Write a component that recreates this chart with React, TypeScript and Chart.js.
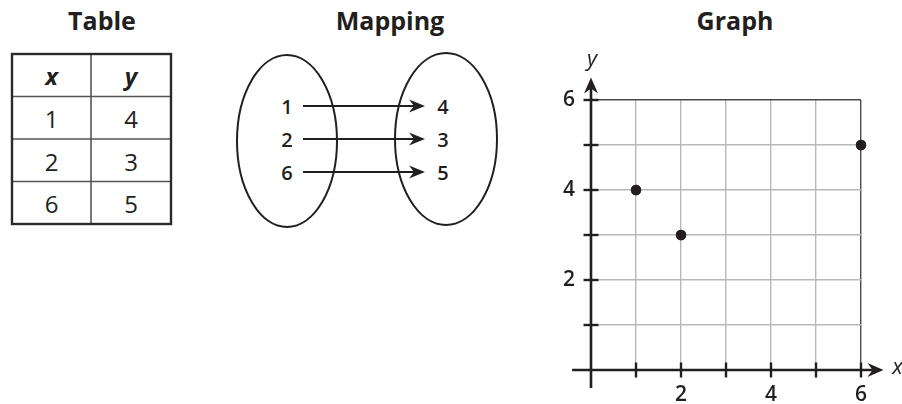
import React, { useEffect, useRef } from "react";
import { Chart, registerables } from "chart.js";

Chart.register(...registerables);

// ---- data ----
const xValues = [1, 2, 6];
const yValues = [4, 3, 5];
const axisLabelValues = [2, 4, 6];
const titles = ["Table", "Mapping", "Graph"];
const headers = ["x", "y"];

const INK = "#231f20";
const FONT = "'Open Sans', 'Noto Sans', sans-serif";

function arrowHead(ctx: CanvasRenderingContext2D, tipX: number, tipY: number, dir: "right" | "up") {
  ctx.save();
  ctx.translate(tipX, tipY);
  if (dir === "up") ctx.rotate(-Math.PI / 2);
  ctx.beginPath();
  ctx.moveTo(0, 0);
  ctx.lineTo(-16, -7);
  ctx.lineTo(-11, 0);
  ctx.lineTo(-16, 7);
  ctx.closePath();
  ctx.fillStyle = INK;
  ctx.fill();
  ctx.restore();
}

const axesPlugin = {
  id: "axesPlugin",
  afterDraw(chart: any) {
    const ctx: CanvasRenderingContext2D = chart.ctx;
    const xs = chart.scales.x;
    const ys = chart.scales.y;
    const x0 = xs.getPixelForValue(0);
    const y0 = ys.getPixelForValue(0);
    ctx.save();
    ctx.strokeStyle = INK;
    ctx.lineWidth = 2.6;
    // x axis
    const xl = xs.getPixelForValue(-0.42);
    const xr = xs.getPixelForValue(6.5);
    ctx.beginPath();
    ctx.moveTo(xl, y0);
    ctx.lineTo(xr - 10, y0);
    ctx.stroke();
    arrowHead(ctx, xr, y0, "right");
    // y axis
    const yb = ys.getPixelForValue(-0.4);
    const yt = ys.getPixelForValue(6.5);
    ctx.beginPath();
    ctx.moveTo(x0, yb);
    ctx.lineTo(x0, yt + 10);
    ctx.stroke();
    arrowHead(ctx, x0, yt, "up");
    // ticks
    ctx.lineWidth = 2.4;
    for (let v = 1; v <= 6; v++) {
      const px = xs.getPixelForValue(v);
      ctx.beginPath();
      ctx.moveTo(px, y0 - 7.5);
      ctx.lineTo(px, y0 + 7.5);
      ctx.stroke();
      const py = ys.getPixelForValue(v);
      ctx.beginPath();
      ctx.moveTo(x0 - 7.5, py);
      ctx.lineTo(x0 + 7.5, py);
      ctx.stroke();
    }
    // re-draw points on top of axes/ticks (not clipped)
    const meta = chart.getDatasetMeta(0);
    ctx.fillStyle = INK;
    meta.data.forEach((pt: any) => {
      ctx.beginPath();
      ctx.arc(pt.x, pt.y, 5.2, 0, Math.PI * 2);
      ctx.fill();
    });
    // axis titles
    ctx.fillStyle = INK;
    ctx.font = `italic 22px ${FONT}`;
    ctx.textAlign = "center";
    ctx.textBaseline = "middle";
    ctx.fillText("y", x0 + 1, yt - 18);
    ctx.fillText("x", xr + 14, y0 - 2);
    ctx.restore();
  },
};

function Graph() {
  const ref = useRef<HTMLCanvasElement | null>(null);
  useEffect(() => {
    if (!ref.current) return;
    const chart = new Chart(ref.current, {
      type: "scatter",
      data: {
        datasets: [
          {
            data: xValues.map((x, i) => ({ x, y: yValues[i] })),
            pointRadius: 5.2,
            pointHoverRadius: 5.2,
            backgroundColor: INK,
            borderWidth: 0,
            clip: false as any,
          },
        ],
      },
      options: {
        animation: false,
        responsive: false,
        maintainAspectRatio: false,
        events: [],
        layout: { padding: { left: 0, top: 60, right: 41, bottom: 0 } },
        plugins: { legend: { display: false }, tooltip: { enabled: false } },
        scales: {
          x: {
            type: "linear",
            min: 0,
            max: 6,
            afterFit: (s: any) => {
              s.height = 34;
            },
            ticks: {
              stepSize: 1,
              autoSkip: false,
              maxRotation: 0,
              padding: 12,
              color: INK,
              font: { family: FONT, size: 21, weight: 600 as any },
              callback: (v: any) => (axisLabelValues.includes(Number(v)) ? String(v) : ""),
            },
            grid: {
              drawTicks: false,
              lineWidth: 1.4,
              color: (c: any) => (c.tick && c.tick.value === 6 ? "#4a4a4a" : c.tick && c.tick.value === 0 ? "rgba(0,0,0,0)" : "#b8b8b8"),
            },
            border: { display: false },
          },
          y: {
            type: "linear",
            min: 0,
            max: 6,
            afterFit: (s: any) => {
              s.width = 51;
            },
            ticks: {
              stepSize: 1,
              autoSkip: false,
              padding: 16,
              color: INK,
              font: { family: FONT, size: 21, weight: 600 as any },
              callback: (v: any) => (axisLabelValues.includes(Number(v)) ? String(v) : ""),
            },
            grid: {
              drawTicks: false,
              lineWidth: 1.4,
              color: (c: any) => (c.tick && c.tick.value === 6 ? "#4a4a4a" : c.tick && c.tick.value === 0 ? "rgba(0,0,0,0)" : "#b8b8b8"),
            },
            border: { display: false },
          },
        },
      },
      plugins: [axesPlugin],
    });
    return () => chart.destroy();
  }, []);
  return (
    <canvas
      ref={ref}
      width={362}
      height={364}
      style={{ position: "absolute", left: 540, top: 40, width: 362, height: 364, display: "block" }}
    />
  );
}

function TableAndMapping() {
  const tLeft = 12, tMid = 91, tRight = 171, tTop = 54, rowH = 42.5;
  const rows = xValues.length + 1;
  const tBottom = tTop + rowH * rows;
  const mapYs = [106, 139, 172];
  const lx = 287, rx = 443;
  const arrowStart = 303, arrowTip = 425;
  return (
    <svg width={902} height={404} style={{ position: "absolute", left: 0, top: 0 }}>
      <g fontFamily={FONT} fill={INK}>
        <text x={102} y={20} fontSize={25} fontWeight={700} textAnchor="middle" dominantBaseline="central">{titles[0]}</text>
        <text x={390} y={20} fontSize={25} fontWeight={700} textAnchor="middle" dominantBaseline="central">{titles[1]}</text>
        <text x={735} y={20} fontSize={25} fontWeight={700} textAnchor="middle" dominantBaseline="central">{titles[2]}</text>
      </g>
      {/* table */}
      <g>
        {Array.from({ length: rows - 1 }, (_, i) => (
          <line key={i} x1={tLeft} x2={tRight} y1={tTop + rowH * (i + 1)} y2={tTop + rowH * (i + 1)} stroke="#555" strokeWidth={1.6} />
        ))}
        <line x1={tMid} x2={tMid} y1={tTop} y2={tBottom} stroke="#555" strokeWidth={1.6} />
        <rect x={tLeft} y={tTop} width={tRight - tLeft} height={tBottom - tTop} fill="none" stroke="#2a2a2a" strokeWidth={2.4} />
        <g fontFamily={FONT} fill={INK} textAnchor="middle" dominantBaseline="central">
          <text x={(tLeft + tMid) / 2} y={tTop + rowH / 2} fontSize={24} fontWeight={700} fontStyle="italic">{headers[0]}</text>
          <text x={(tMid + tRight) / 2} y={tTop + rowH / 2} fontSize={24} fontWeight={700} fontStyle="italic">{headers[1]}</text>
          {xValues.map((x, i) => (
            <text key={"x" + i} x={(tLeft + tMid) / 2} y={tTop + rowH * (i + 1.5) + 1} fontSize={24}>{x}</text>
          ))}
          {yValues.map((y, i) => (
            <text key={"y" + i} x={(tMid + tRight) / 2} y={tTop + rowH * (i + 1.5) + 1} fontSize={24}>{y}</text>
          ))}
        </g>
      </g>
      {/* mapping */}
      <g>
        <ellipse cx={287} cy={141} rx={50} ry={86} fill="none" stroke={INK} strokeWidth={2} />
        <ellipse cx={446} cy={139} rx={51} ry={86} fill="none" stroke={INK} strokeWidth={2} />
        {xValues.map((x, i) => (
          <g key={"m" + i}>
            <line x1={arrowStart} x2={arrowTip - 10} y1={mapYs[i]} y2={mapYs[i]} stroke={INK} strokeWidth={2.2} />
            <path
              d={`M ${arrowTip} ${mapYs[i]} L ${arrowTip - 16} ${mapYs[i] - 6.5} L ${arrowTip - 11} ${mapYs[i]} L ${arrowTip - 16} ${mapYs[i] + 6.5} Z`}
              fill={INK}
            />
            <text x={lx} y={mapYs[i]} fontFamily={FONT} fontSize={20} fontWeight={600} fill={INK} textAnchor="middle" dominantBaseline="central">{x}</text>
            <text x={rx} y={mapYs[i]} fontFamily={FONT} fontSize={20} fontWeight={600} fill={INK} textAnchor="middle" dominantBaseline="central">{yValues[i]}</text>
          </g>
        ))}
      </g>
    </svg>
  );
}

export default function App() {
  return (
    <div style={{ position: "absolute", left: 0, top: 0, width: 902, height: 404, background: "#fff", overflow: "hidden" }}>
      <TableAndMapping />
      <Graph />
    </div>
  );
}
